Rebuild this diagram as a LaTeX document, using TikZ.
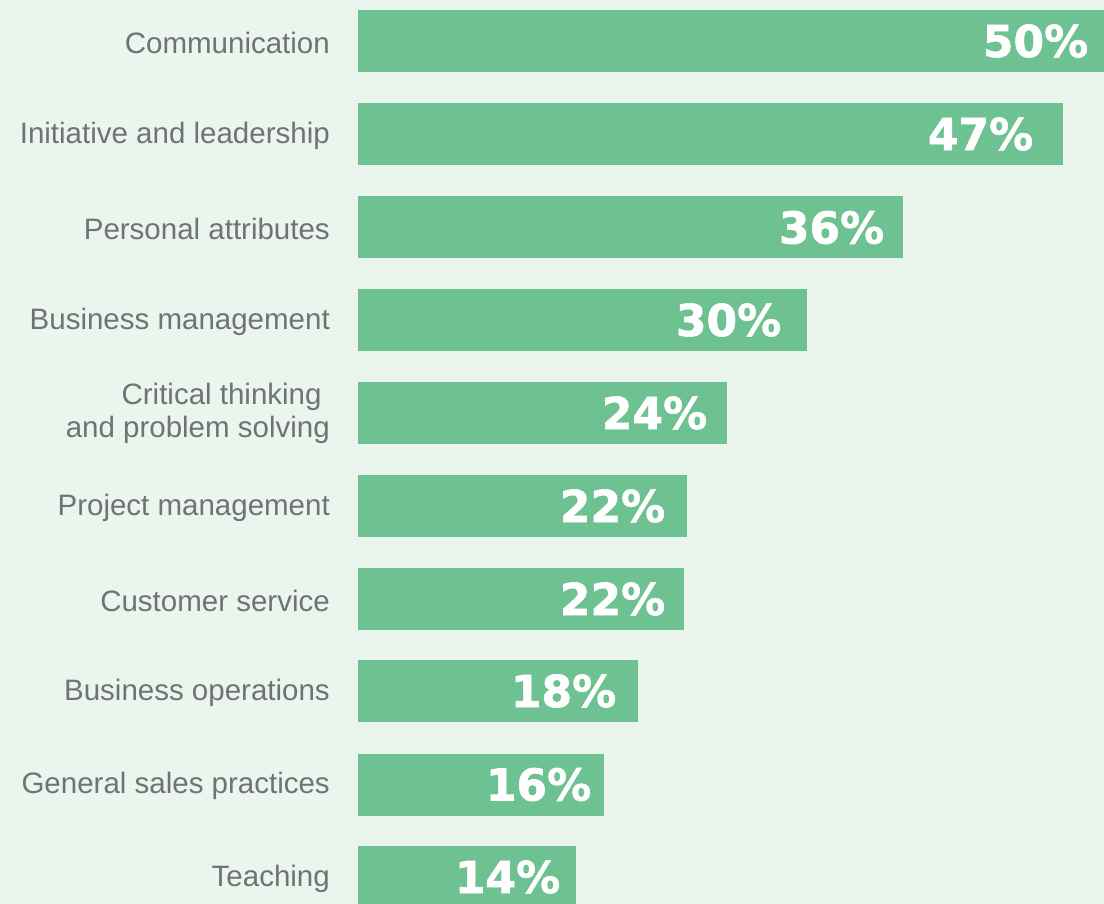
\documentclass[tikz,border=0pt]{standalone}
\usepackage{fontspec}
\setmainfont{Liberation Sans}
\newfontfamily\pctfont{DejaVu Sans}[BoldFeatures={FakeBold=1.4}]
\definecolor{bgmint}{HTML}{EAF5EE}
\definecolor{bargreen}{HTML}{6EC291}
\definecolor{lblgray}{HTML}{707276}
\tikzset{
  bar/.style={fill=bargreen, draw=none, minimum height=62pt, inner sep=0pt, anchor=west},
  lbl/.style={text=lblgray, font=\fontsize{29.5}{33}\selectfont, align=right, anchor=east, inner sep=0pt},
  pct/.style={text=white, font=\pctfont\fontsize{44}{44}\selectfont\bfseries, anchor=east, inner sep=0pt}
}
\begin{document}
\begin{tikzpicture}[x=1pt,y=-1pt]
  \fill[bgmint] (0,0) rectangle (1104,904);
  \useasboundingbox (0,0) rectangle (1104,904);
  % bars
  \node[bar, minimum width=746pt] (comm) at (358,41) {};
  \node[bar, minimum width=705pt] (init) at (358,134) {};
  \node[bar, minimum width=545pt] (pers) at (358,227.5) {};
  \node[bar, minimum width=449pt] (busm) at (358,320) {};
  \node[bar, minimum width=369pt] (crit) at (358,413) {};
  \node[bar, minimum width=329pt] (proj) at (358,506) {};
  \node[bar, minimum width=326pt] (cust) at (358,599) {};
  \node[bar, minimum width=280pt] (buso) at (358,691) {};
  \node[bar, minimum width=246pt] (sale) at (358,784.5) {};
  \node[bar, minimum width=218pt] (teach) at (358,877) {};
  % categories
  \node[lbl] at ([xshift=-28pt,yshift=-1.5pt]comm.west) {Communication};
  \node[lbl] at ([xshift=-28pt,yshift=-1.5pt]init.west) {Initiative and leadership};
  \node[lbl] at ([xshift=-28pt,yshift=-1.5pt]pers.west) {Personal attributes};
  \node[lbl] at ([xshift=-28pt,yshift=-1.5pt]busm.west) {Business management};
  \node[lbl] at ([xshift=-28pt]crit.west) {Critical thinking\phantom{ }\\and problem solving};
  \node[lbl] at ([xshift=-28pt,yshift=-1.5pt]proj.west) {Project management};
  \node[lbl] at ([xshift=-28pt,yshift=-1.5pt]cust.west) {Customer service};
  \node[lbl] at ([xshift=-28pt,yshift=-1.5pt]buso.west) {Business operations};
  \node[lbl] at ([xshift=-28pt,yshift=-1.5pt]sale.west) {General sales practices};
  \node[lbl] at ([xshift=-28pt,yshift=-1.5pt]teach.west) {Teaching};
  % values
  \node[pct] at ([xshift=-16pt]comm.east) {50\%};
  \node[pct] at ([xshift=-30pt]init.east) {47\%};
  \node[pct] at ([xshift=-19pt]pers.east) {36\%};
  \node[pct] at ([xshift=-26pt]busm.east) {30\%};
  \node[pct] at ([xshift=-20pt]crit.east) {24\%};
  \node[pct] at ([xshift=-22pt]proj.east) {22\%};
  \node[pct] at ([xshift=-19pt]cust.east) {22\%};
  \node[pct] at ([xshift=-22pt]buso.east) {18\%};
  \node[pct] at ([xshift=-13pt]sale.east) {16\%};
  \node[pct] at ([xshift=-16pt]teach.east) {14\%};
\end{tikzpicture}
\end{document}
